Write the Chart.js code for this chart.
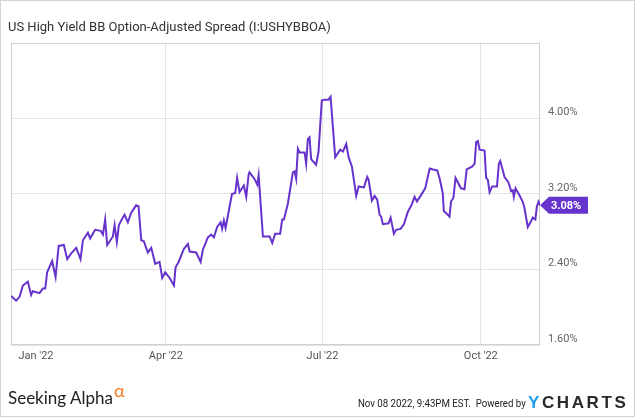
<!DOCTYPE html>
<html>
<head>
<meta charset="utf-8">
<script src="https://cdn.jsdelivr.net/npm/chart.js@4.4.0/dist/chart.umd.min.js"></script>
<style>
  html, body { margin: 0; padding: 0; background: #fff; }
  #wrap { position: relative; width: 635px; height: 417px; overflow: hidden; }
  #chart { position: absolute; left: 0; top: 0; }
  #border { position: absolute; left: 0; top: 0; width: 635px; height: 417px; box-sizing: border-box; border: 1px solid #d4d4d4; pointer-events: none; }
  .txt { position: absolute; white-space: nowrap; }
  #title { left: 8px; top: 17.3px; font: 13px/20px Roboto, sans-serif; color: #333; }
  #sa { left: 8px; top: 388px; font: 17px/20px Lato, sans-serif; color: #222; }
  #alpha { left: 114px; top: 380px; font: 18px/20px Lato, sans-serif; color: #f47b20; }
  #stamp { right: 109px; top: 397px; font: 11px/14px Roboto, sans-serif; color: #222; transform: scaleX(0.88); transform-origin: right center; }
  #ych { left: 528px; top: 393px; font: bold 17px/20px "Liberation Sans", Arial, sans-serif; color: #2a2a2a; letter-spacing: 2.6px; }
  #ych span { color: #1e9cf0; }
</style>
</head>
<body>
<div id="wrap">
  <canvas id="chart" width="635" height="417"></canvas>
  <div class="txt" id="title">US High Yield BB Option-Adjusted Spread (I:USHYBBOA)</div>
  <div class="txt" id="sa">Seeking Alpha</div>
  <div class="txt" id="alpha">α</div>
  <div class="txt" id="stamp">Nov 08 2022, 9:43PM EST.&nbsp; Powered by</div>
  <div class="txt" id="ych"><span>Y</span>CHARTS</div>
  <div id="border"></div>
</div>
<script>
// days since Jan 1 2022, spread in %
const spreadDays = [
    0.1, 3.0, 5.0, 6.9, 9.8, 11.7, 12.7, 16.6, 18.5, 19.9, 21.0, 23.9, 25.9, 27.7, 30.7, 32.7,
    35.0, 37.9, 40.4, 41.8, 44.7, 46.0, 48.9, 52.1, 53.4, 54.7, 55.9, 59.2, 60.2, 61.5, 62.7, 65.0,
    66.0, 67.9, 69.8, 72.7, 74.1, 75.7, 77.2, 79.5, 81.5, 83.8, 86.3, 87.9, 89.6, 92.2, 94.7, 95.6,
    97.4, 100.5, 102.8, 103.8, 107.6, 110.2, 111.5, 114.4, 116.3, 117.9, 119.8, 121.8, 122.7, 123.7, 124.7, 128.4,
    130.3, 131.4, 132.8, 135.3, 136.7, 138.1, 138.6, 141.5, 143.1, 143.9, 146.4, 150.3, 151.8, 153.5, 156.4, 157.6,
    158.6, 160.9, 163.8, 164.8, 165.7, 166.7, 167.7, 170.6, 171.5, 172.5, 173.5, 174.4, 177.3, 178.7, 180.6, 182.2,
    184.5, 185.7, 188.4, 191.3, 192.9, 194.8, 196.2, 198.1, 200.6, 202.0, 205.1, 207.0, 207.8, 209.7, 211.3, 212.8,
    214.2, 215.1, 216.1, 219.4, 220.6, 222.5, 223.8, 226.4, 228.3, 230.6, 232.9, 234.5, 235.9, 238.0, 240.7, 243.3,
    245.2, 247.7, 249.0, 250.9, 251.5, 253.8, 254.8, 255.7, 257.1, 258.3, 261.5, 263.5, 264.8, 267.9, 269.4, 270.3,
    271.3, 272.3, 275.2, 276.1, 277.1, 278.1, 279.6, 282.4, 283.5, 284.3, 285.8, 286.8, 288.8, 289.7, 290.6, 291.6,
    292.2, 293.2, 295.4, 297.3, 298.3, 300.3, 302.2, 303.2, 304.7, 305.6, 306.6, 307.4
];
const spreadValues = [
    2.12, 2.07, 2.11, 2.23, 2.27, 2.13, 2.17, 2.15, 2.20, 2.20, 2.37, 2.49, 2.32, 2.65, 2.66, 2.51,
    2.57, 2.63, 2.51, 2.71, 2.79, 2.73, 2.82, 2.81, 2.77, 2.93, 2.66, 2.75, 2.87, 2.69, 2.87, 2.95,
    2.98, 2.90, 3.00, 3.08, 3.07, 2.71, 2.70, 2.58, 2.63, 2.46, 2.48, 2.31, 2.37, 2.31, 2.23, 2.42,
    2.48, 2.62, 2.67, 2.59, 2.58, 2.48, 2.61, 2.74, 2.77, 2.74, 2.85, 2.90, 2.83, 2.92, 2.84, 3.20,
    3.21, 3.37, 3.22, 3.29, 3.17, 3.41, 3.43, 3.36, 3.30, 3.40, 2.75, 2.75, 2.68, 2.78, 2.78, 2.93,
    2.93, 3.10, 3.43, 3.44, 3.36, 3.68, 3.64, 3.64, 3.52, 3.78, 3.80, 3.57, 3.51, 3.65, 4.19, 4.20,
    4.20, 4.23, 3.59, 3.67, 3.65, 3.73, 3.59, 3.49, 3.18, 3.28, 3.27, 3.38, 3.35, 3.13, 3.18, 3.14,
    2.98, 2.96, 2.88, 2.89, 2.95, 2.78, 2.82, 2.83, 2.88, 3.01, 3.09, 3.17, 3.12, 3.18, 3.26, 3.47,
    3.46, 3.45, 3.37, 3.21, 3.02, 2.98, 2.96, 3.12, 3.16, 3.37, 3.26, 3.25, 3.46, 3.49, 3.52, 3.75,
    3.76, 3.67, 3.66, 3.37, 3.35, 3.22, 3.28, 3.28, 3.52, 3.55, 3.45, 3.38, 3.33, 3.29, 3.23, 3.24,
    3.17, 3.26, 3.19, 3.12, 3.06, 2.85, 2.91, 2.95, 2.93, 3.07, 3.12, 3.08
];

// x ticks: Jan 1 sits on the frame, the Jan label is nudged inward
const xTickDays = [0, 14.5, 90, 181, 273];
const xTickLabels = ['', "Jan '22", "Apr '22", "Jul '22", "Oct '22"];
const yTickValues = [1.6, 2.4, 3.2, 4.0, 4.8];

const lineColor = '#6633cc';
const gridColor = '#e4e4e4';

const framePlugin = {
    id: 'frame',
    beforeDatasetsDraw: function (chart) {
        const a = chart.chartArea;
        const ctx = chart.ctx;
        ctx.save();
        ctx.strokeStyle = '#d0d0d0';
        ctx.lineWidth = 1;
        ctx.strokeRect(Math.round(a.left) + 0.5, Math.round(a.top) + 0.5,
            Math.round(a.right - a.left) - 1, Math.round(a.bottom - a.top) - 1);
        ctx.restore();
    },
    afterDraw: function (chart) {
        // last value tag
        const a = chart.chartArea;
        const ctx = chart.ctx;
        const last = spreadValues[spreadValues.length - 1];
        const y = chart.scales.y.getPixelForValue(last);
        const x = a.right;
        ctx.save();
        ctx.fillStyle = lineColor;
        ctx.beginPath();
        ctx.moveTo(x, y);
        ctx.lineTo(x + 9, y - 8.5);
        ctx.lineTo(x + 48, y - 8.5);
        ctx.lineTo(x + 48, y + 8.5);
        ctx.lineTo(x + 9, y + 8.5);
        ctx.closePath();
        ctx.fill();
        ctx.fillStyle = '#fff';
        ctx.font = 'bold 11px Roboto';
        ctx.textBaseline = 'middle';
        ctx.fillText(last.toFixed(2) + '%', x + 11, y + 0.5);
        ctx.restore();
    }
};

const ctx = document.getElementById('chart').getContext('2d');
new Chart(ctx, {
    type: 'line',
    data: {
        datasets: [{
            label: 'USHYBBOA',
            data: spreadDays.map(function (d, i) { return { x: d, y: spreadValues[i] }; }),
            borderColor: lineColor,
            borderWidth: 2,
            pointRadius: 0,
            tension: 0,
            fill: false
        }]
    },
    options: {
        responsive: false,
        animation: false,
        layout: { padding: { left: 11, top: 43, right: 0, bottom: 0 } },
        plugins: { legend: { display: false }, tooltip: { enabled: false } },
        scales: {
            x: {
                type: 'linear',
                min: 0,
                max: spreadDays[spreadDays.length - 1],
                afterBuildTicks: function (scale) {
                    scale.ticks = xTickDays.map(function (d) { return { value: d }; });
                },
                afterFit: function (scale) { scale.height = 72; },
                ticks: {
                    autoSkip: false,
                    maxRotation: 0,
                    padding: 5,
                    color: '#555',
                    font: { family: 'Roboto', size: 11 },
                    callback: function (value, index) { return xTickLabels[index]; }
                },
                grid: {
                    drawTicks: false,
                    color: function (c) { return c.index === 1 ? 'rgba(0,0,0,0)' : gridColor; }
                },
                border: { display: false }
            },
            y: {
                position: 'right',
                min: 1.6,
                max: 4.8,
                afterBuildTicks: function (scale) {
                    scale.ticks = yTickValues.map(function (v) { return { value: v }; });
                },
                afterFit: function (scale) { scale.width = 95; },
                ticks: {
                    padding: 8,
                    labelOffset: -6,
                    color: '#666',
                    font: { family: 'Roboto', size: 11 },
                    callback: function (value) { return value >= 4.8 ? '' : value.toFixed(2) + '%'; }
                },
                grid: { drawTicks: false, color: gridColor },
                border: { display: false }
            }
        }
    },
    plugins: [framePlugin]
});
</script>
</body>
</html>
